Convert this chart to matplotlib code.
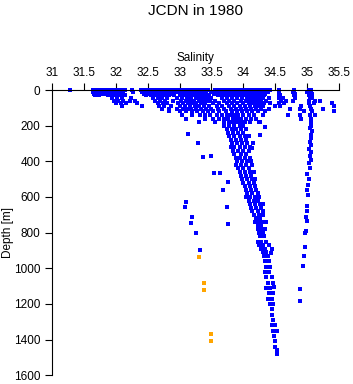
import matplotlib
matplotlib.use("Agg")
import matplotlib.pyplot as plt

# mixed layer: salinity values observed at each depth row
surf_depths = [0, 10, 20, 30, 45, 60, 75, 90, 105, 120, 140, 160, 180]
surf_sal = [
    [31.28, 31.64, 31.68, 31.72, 31.76, 31.80, 31.84, 31.88, 31.93, 31.97, 32.02, 32.06, 32.10,
     32.15, 32.25, 32.40, 32.45, 32.50, 32.55, 32.60, 32.65, 32.70, 32.75, 32.80, 32.85, 32.90,
     32.95, 33.00, 33.05, 33.10, 33.15, 33.20, 33.25, 33.30, 33.35, 33.40, 33.45, 33.55, 33.60,
     33.65, 33.70, 33.75, 33.80, 33.85, 33.90, 33.95, 34.00, 34.05, 34.10, 34.15, 34.20, 34.25,
     34.30, 34.35, 34.42, 34.56, 34.79, 35.02, 35.06],
    [31.65, 31.70, 31.75, 31.82, 31.87, 31.92, 31.98, 32.04, 32.12, 32.27, 32.42, 32.48, 32.55,
     32.62, 32.68, 32.74, 32.80, 32.88, 32.94, 33.00, 33.08, 33.14, 33.20, 33.26, 33.32, 33.38,
     33.50, 33.58, 33.66, 33.72, 33.78, 33.86, 33.92, 33.98, 34.06, 34.12, 34.18, 34.24, 34.30,
     34.38, 34.55, 34.78, 35.00, 35.05],
    [31.66, 31.72, 31.78, 31.85, 31.90, 31.96, 32.02, 32.08, 32.44, 32.52, 32.60, 32.66, 32.72,
     32.78, 32.86, 32.92, 33.00, 33.06, 33.12, 33.18, 33.24, 33.30, 33.36, 33.42, 33.54, 33.62,
     33.70, 33.76, 33.84, 33.90, 33.96, 34.04, 34.10, 34.16, 34.22, 34.28, 34.34, 34.56, 34.80,
     35.03, 35.08],
    [31.68, 31.74, 31.88, 31.95, 32.00, 32.06, 32.14, 32.48, 32.56, 32.64, 32.76, 32.84, 32.92,
     33.02, 33.10, 33.16, 33.22, 33.28, 33.34, 33.40, 33.46, 33.60, 33.68, 33.80, 33.88, 33.94,
     34.02, 34.08, 34.14, 34.20, 34.26, 34.32, 34.57, 34.79, 35.02, 35.06],
    [31.95, 32.02, 32.10, 32.24, 32.58, 32.66, 32.72, 32.80, 32.96, 33.04, 33.12, 33.18, 33.26,
     33.32, 33.38, 33.44, 33.50, 33.66, 33.74, 33.82, 33.90, 33.98, 34.06, 34.12, 34.18, 34.24,
     34.30, 34.40, 34.55, 34.62, 34.80, 35.04, 35.08],
    [31.97, 32.04, 32.12, 32.22, 32.30, 32.62, 32.70, 32.78, 32.90, 33.02, 33.10, 33.16, 33.22,
     33.30, 33.36, 33.42, 33.48, 33.56, 33.70, 33.78, 33.86, 33.96, 34.04, 34.10, 34.16, 34.22,
     34.28, 34.36, 34.58, 34.66, 34.78, 35.03, 35.12, 35.20],
    [32.00, 32.08, 32.16, 32.33, 32.66, 32.74, 32.80, 32.98, 33.06, 33.14, 33.20, 33.26, 33.34,
     33.40, 33.52, 33.62, 33.74, 33.82, 33.90, 34.00, 34.08, 34.14, 34.20, 34.26, 34.32, 34.42,
     34.56, 34.64, 35.02, 35.10, 35.39],
    [32.10, 32.42, 32.68, 32.76, 32.86, 33.00, 33.08, 33.16, 33.24, 33.30, 33.38, 33.46, 33.58,
     33.66, 33.78, 33.86, 33.94, 34.02, 34.10, 34.18, 34.24, 34.30, 34.50, 34.57, 34.90, 35.04,
     35.41],
    [32.72, 32.84, 32.96, 33.06, 33.12, 33.18, 33.26, 33.34, 33.42, 33.50, 33.60, 33.70, 33.80,
     33.88, 33.96, 34.04, 34.12, 34.20, 34.28, 34.40, 34.73, 34.89, 35.06, 35.25],
    [32.84, 33.00, 33.10, 33.20, 33.28, 33.36, 33.44, 33.52, 33.62, 33.72, 33.82, 33.90, 33.98,
     34.06, 34.14, 34.22, 34.34, 34.95, 35.07, 35.42],
    [33.04, 33.20, 33.32, 33.40, 33.48, 33.58, 33.66, 33.74, 33.80, 33.86, 33.92, 34.00, 34.08,
     34.16, 34.30, 34.69, 34.88, 35.04, 35.12],
    [33.10, 33.40, 33.52, 33.62, 33.70, 33.76, 33.84, 33.90, 33.96, 34.04, 34.12, 34.20, 34.90,
     35.05],
    [33.30, 33.56, 33.70, 33.78, 33.84, 33.90, 33.96, 34.02, 34.10, 34.26, 35.06],
]

# main intermediate-water core
core_depths = [200, 220, 240, 260, 280, 300, 320, 340, 360, 380, 400, 420, 440, 460, 480,
               500, 520, 540, 560, 580, 600, 620, 640, 660, 680, 700, 720, 740, 760, 780,
               800, 820, 850, 870, 890, 910, 930, 960, 990, 1020, 1050, 1080, 1110, 1140,
               1170, 1200, 1230, 1260, 1290, 1320, 1350, 1380, 1410, 1440, 1460, 1480]
core_sal = [
    [33.70, 33.78, 33.86, 33.94, 34.00], [33.74, 33.82, 33.88, 33.96, 34.04],
    [33.76, 33.84, 33.92, 34.00], [33.78, 33.86, 33.94, 34.02, 34.08],
    [33.80, 33.88, 33.96, 34.04], [33.82, 33.90, 33.98, 34.06],
    [33.80, 33.86, 33.94, 34.02, 34.10], [33.84, 33.92, 34.00, 34.08],
    [33.86, 33.96, 34.04], [33.88, 33.94, 34.02, 34.10],
    [33.90, 33.98, 34.06, 34.12], [33.88, 33.96, 34.04, 34.14],
    [33.92, 34.00, 34.08], [33.94, 34.02, 34.10, 34.16],
    [33.96, 34.04, 34.12], [33.98, 34.06, 34.14, 34.18],
    [34.00, 34.08, 34.16], [34.02, 34.10, 34.18],
    [34.04, 34.12, 34.20], [34.06, 34.14, 34.22],
    [34.04, 34.10, 34.18, 34.24], [34.08, 34.16, 34.22],
    [34.10, 34.18, 34.26], [34.12, 34.20, 34.28],
    [34.14, 34.22, 34.30], [34.16, 34.24, 34.30],
    [34.20, 34.26], [34.18, 34.24, 34.30],
    [34.22, 34.28], [34.22, 34.28, 34.34],
    [34.24, 34.30], [34.26, 34.32],
    [34.22, 34.28, 34.36], [34.24, 34.30, 34.40],
    [34.28, 34.34, 34.44], [34.30, 34.36],
    [34.32, 34.38], [34.34, 34.40],
    [34.36, 34.42], [34.34, 34.40],
    [34.36, 34.44], [34.38, 34.46],
    [34.36, 34.42], [34.40, 34.46],
    [34.38, 34.44], [34.42, 34.46],
    [34.44], [34.44], [34.46], [34.44, 34.50], [34.46, 34.52],
    [34.48], [34.50], [34.50], [34.52], [34.52],
]

# deep column near 35 psu
east_sal = [35.06, 35.04, 35.07, 35.05, 35.06, 35.04, 35.05, 35.03, 35.06, 35.04, 35.05,
            35.03, 35.04, 35.00, 35.02, 35.01, 35.00, 35.01, 34.99, 35.00, 34.98, 34.99,
            34.98, 34.97, 34.96, 34.95, 34.93, 34.89, 34.88]
east_dep = [200, 215, 230, 250, 270, 290, 310, 330, 350, 370, 390, 410, 440, 470, 500,
            530, 560, 590, 650, 680, 710, 735, 790, 800, 880, 930, 987, 1118, 1185]

# isolated stations
scat_sal = [33.13, 33.29, 33.36, 33.49, 33.54, 33.64, 33.68, 33.76, 33.74, 33.76, 33.10,
            33.08, 33.19, 33.18, 33.26, 33.32, 34.24, 34.33, 34.26, 34.15, 34.13, 34.31,
            34.36, 34.43, 34.48]
scat_dep = [249, 298, 376, 371, 467, 467, 561, 518, 657, 752, 627, 655, 714, 748, 804,
            899, 178, 206, 252, 299, 327, 639, 738, 916, 1107]

# flagged samples
flag_sal = [33.30, 33.39, 33.39, 33.49, 33.49]
flag_dep = [936, 1085, 1124, 1366, 1410]

blue_x, blue_y = [], []
for d, row in zip(surf_depths, surf_sal):
    blue_x.extend(row)
    blue_y.extend([d] * len(row))
for d, row in zip(core_depths, core_sal):
    blue_x.extend(row)
    blue_y.extend([d] * len(row))
blue_x.extend(east_sal + scat_sal)
blue_y.extend(east_dep + scat_dep)

plt.rcParams.update({"font.family": "Liberation Sans", "font.size": 8.5})

fig = plt.figure(figsize=(3.53, 3.84), dpi=100)
ax = fig.add_axes([0.1465, 0.0227, 0.8147, 0.7429])

ax.plot(blue_x, blue_y, "s", color="#0000ff", ms=2.7, mew=0, clip_on=False)
ax.plot(flag_sal, flag_dep, "s", color="#ffa500", ms=2.7, mew=0, clip_on=False)

ax.set_xlim(31, 35.5)
ax.set_ylim(1600, 0)
ax.set_xticks([31 + 0.5 * i for i in range(10)])
ax.set_xticklabels(["31", "31.5", "32", "32.5", "33", "33.5", "34", "34.5", "35", "35.5"])
ax.set_yticks(range(0, 1601, 200))
ax.xaxis.tick_top()
ax.xaxis.set_label_position("top")
ax.tick_params(axis="both", direction="out", length=5, width=0.8, pad=3, labelsize=8.5)
for side in ["right", "bottom"]:
    ax.spines[side].set_visible(False)
for side in ["left", "top"]:
    ax.spines[side].set_linewidth(0.8)
ax.set_xlabel("Salinity", fontsize=8.5, labelpad=4)
ax.set_ylabel("Depth [m]", fontsize=8.5)
ax.yaxis.set_label_coords(-0.13, 0.5)
fig.text(0.553, 0.99, "JCDN in 1980", ha="center", va="top", fontsize=11)

fig.savefig("out.png", dpi=100)
